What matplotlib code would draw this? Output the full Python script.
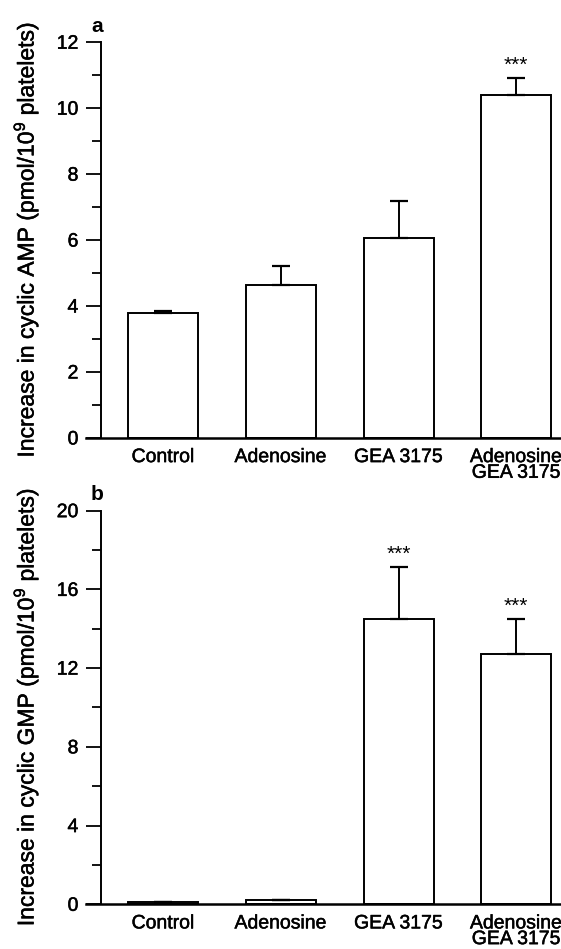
import matplotlib
matplotlib.use("Agg")
import matplotlib.pyplot as plt
import matplotlib.patheffects as pe
import numpy as np

plt.rcParams['font.family'] = ['Liberation Sans', 'DejaVu Sans']
plt.rcParams['mathtext.fontset'] = 'custom'
plt.rcParams['mathtext.rm'] = 'Liberation Sans'

groups = ["Control", "Adenosine", "GEA 3175", "Adenosine\nGEA 3175"]

# panel a: cyclic AMP
camp_mean = [3.8, 4.65, 6.05, 10.4]
camp_sem = [0.04, 0.57, 1.15, 0.52]
camp_stars = ["", "", "", "***"]

# panel b: cyclic GMP
cgmp_mean = [0.12, 0.22, 14.5, 12.73]
cgmp_sem = [0.0, 0.0, 2.66, 1.77]
cgmp_stars = ["", "", "***", "***"]

# scanned print looks a little heavier than the plain font
heavy = [pe.withStroke(linewidth=0.35, foreground="black")]

fig = plt.figure(figsize=(5.61, 9.49), dpi=100)
ax1 = fig.add_axes([0.1795, 0.5385, 0.8205, 0.417])
ax2 = fig.add_axes([0.1795, 0.0471, 0.8205, 0.4148])

panels = [
    (ax1, camp_mean, camp_sem, camp_stars, 12, 2, "a",
     "Increase in cyclic AMP (pmol/10$^{9}$ platelets)"),
    (ax2, cgmp_mean, cgmp_sem, cgmp_stars, 20, 4, "b",
     "Increase in cyclic GMP (pmol/10$^{9}$ platelets)"),
]

x = np.arange(len(groups))

for ax, mean, sem, stars, ymax, step, letter, ylab in panels:
    ax.bar(x, mean, width=0.595, color="white", edgecolor="black", linewidth=1.4, zorder=2)
    ax.errorbar(x, mean, yerr=[np.zeros(len(sem)), sem], fmt="none", ecolor="black",
                elinewidth=1.4, capsize=6.8, capthick=1.6, zorder=3)
    for i in range(len(groups)):
        if stars[i]:
            ax.annotate(stars[i], (x[i], mean[i] + sem[i]), xytext=(0, 2),
                        textcoords="offset points", ha="center", va="bottom", fontsize=15)

    ax.set_xlim(-0.53, 3.38)
    ax.set_ylim(0, ymax)
    ax.set_yticks(np.arange(0, ymax + 1, step))
    ax.set_yticks(np.arange(step / 2, ymax, step), minor=True)
    ax.set_xticks(x)
    ax.set_xticklabels(groups, fontsize=14, linespacing=0.9)

    ax.spines["top"].set_visible(False)
    ax.spines["right"].set_visible(False)
    ax.spines["bottom"].set_visible(False)
    ax.spines["left"].set_linewidth(1.4)
    ax.axhline(0, xmin=-0.033, xmax=1, color="black", linewidth=1.8, clip_on=False, zorder=4)

    ax.tick_params(axis="y", which="major", length=11, width=1.3, labelsize=14, pad=5)
    ax.tick_params(axis="y", which="minor", length=6.5, width=1.3)
    ax.tick_params(axis="x", length=0, pad=8)

    ax.set_ylabel(ylab, fontsize=16.5)
    ax.yaxis.set_label_coords(-0.13, 0.5)
    ax.text(-0.008, 1.04, letter, transform=ax.transAxes, fontsize=15,
            fontweight="bold", ha="center", va="center")

    for t in ax.get_xticklabels() + ax.get_yticklabels() + [ax.yaxis.label]:
        t.set_path_effects(heavy)

fig.savefig("out.png", dpi=100)
